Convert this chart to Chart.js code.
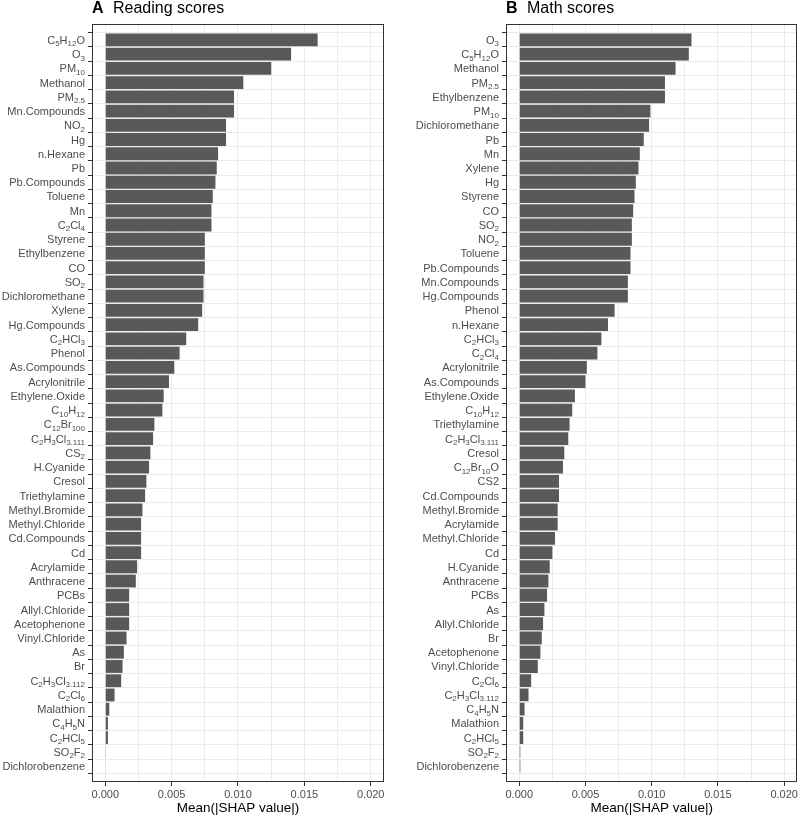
<!DOCTYPE html>
<html>
<head>
<meta charset="utf-8">
<script src="https://cdn.jsdelivr.net/npm/chart.js@4.4.0/dist/chart.umd.min.js"></script>
<style>
  html, body { margin: 0; padding: 0; background: #fff; }
  #wrap { position: relative; width: 800px; height: 818px; }
  canvas { position: absolute; top: 0; }
</style>
</head>
<body>
<div id="wrap">
  <canvas id="reading" width="400" height="818" style="left:0"></canvas>
  <canvas id="math" width="400" height="818" style="left:400px"></canvas>
</div>
<script>
// Labels use _{..} for subscripts (drawn by the plugin below)
const readingLabels = [
  'C_{5}H_{12}O', 'O_{3}', 'PM_{10}', 'Methanol', 'PM_{2.5}', 'Mn.Compounds', 'NO_{2}', 'Hg',
  'n.Hexane', 'Pb', 'Pb.Compounds', 'Toluene', 'Mn', 'C_{2}Cl_{4}', 'Styrene', 'Ethylbenzene',
  'CO', 'SO_{2}', 'Dichloromethane', 'Xylene', 'Hg.Compounds', 'C_{2}HCl_{3}', 'Phenol',
  'As.Compounds', 'Acrylonitrile', 'Ethylene.Oxide', 'C_{10}H_{12}', 'C_{12}Br_{100}',
  'C_{2}H_{3}Cl_{3.111}', 'CS_{2}', 'H.Cyanide', 'Cresol', 'Triethylamine', 'Methyl.Bromide',
  'Methyl.Chloride', 'Cd.Compounds', 'Cd', 'Acrylamide', 'Anthracene', 'PCBs', 'Allyl.Chloride',
  'Acetophenone', 'Vinyl.Chloride', 'As', 'Br', 'C_{2}H_{3}Cl_{3.112}', 'C_{2}Cl_{6}', 'Malathion',
  'C_{4}H_{5}N', 'C_{2}HCl_{5}', 'SO_{2}F_{2}', 'Dichlorobenzene'
];
const readingValues = [
  0.0160, 0.0140, 0.0125, 0.0104, 0.0097, 0.0097, 0.0091, 0.0091,
  0.0085, 0.0084, 0.0083, 0.0081, 0.0080, 0.0080, 0.0075, 0.0075,
  0.0075, 0.0074, 0.0074, 0.0073, 0.0070, 0.0061, 0.0056,
  0.0052, 0.0048, 0.0044, 0.0043, 0.0037,
  0.0036, 0.0034, 0.0033, 0.0031, 0.0030, 0.0028,
  0.0027, 0.0027, 0.0027, 0.0024, 0.0023, 0.0018, 0.0018,
  0.0018, 0.0016, 0.0014, 0.0013, 0.0012, 0.0007, 0.0003,
  0.0002, 0.0002, 0.00005, 0.00004
];

const mathLabels = [
  'O_{3}', 'C_{5}H_{12}O', 'Methanol', 'PM_{2.5}', 'Ethylbenzene', 'PM_{10}', 'Dichloromethane',
  'Pb', 'Mn', 'Xylene', 'Hg', 'Styrene', 'CO', 'SO_{2}', 'NO_{2}', 'Toluene', 'Pb.Compounds',
  'Mn.Compounds', 'Hg.Compounds', 'Phenol', 'n.Hexane', 'C_{2}HCl_{3}', 'C_{2}Cl_{4}',
  'Acrylonitrile', 'As.Compounds', 'Ethylene.Oxide', 'C_{10}H_{12}', 'Triethylamine',
  'C_{2}H_{3}Cl_{3.111}', 'Cresol', 'C_{12}Br_{10}O', 'CS2', 'Cd.Compounds', 'Methyl.Bromide',
  'Acrylamide', 'Methyl.Chloride', 'Cd', 'H.Cyanide', 'Anthracene', 'PCBs', 'As',
  'Allyl.Chloride', 'Br', 'Acetophenone', 'Vinyl.Chloride', 'C_{2}Cl_{6}', 'C_{2}H_{3}Cl_{3.112}',
  'C_{4}H_{5}N', 'Malathion', 'C_{2}HCl_{5}', 'SO_{2}F_{2}', 'Dichlorobenzene'
];
const mathValues = [
  0.0130, 0.0128, 0.0118, 0.0110, 0.0110, 0.0099, 0.0098,
  0.0094, 0.0091, 0.0090, 0.0088, 0.0087, 0.0086, 0.0085, 0.0085, 0.0084, 0.0084,
  0.0082, 0.0082, 0.0072, 0.0067, 0.0062, 0.0059,
  0.0051, 0.0050, 0.0042, 0.0040, 0.0038,
  0.0037, 0.0034, 0.0033, 0.0030, 0.0030, 0.0029,
  0.0029, 0.0027, 0.0025, 0.0023, 0.0022, 0.0021, 0.0019,
  0.0018, 0.0017, 0.0016, 0.0014, 0.0009, 0.0007,
  0.0004, 0.0003, 0.0003, 0.00008, 0.00008
];

const xMajorTicks = [0, 0.005, 0.010, 0.015, 0.020];
const xMinorTicks = [0.0025, 0.0075, 0.0125, 0.0175];
const xTitle = 'Mean(|SHAP value|)';

const FONT = '"Liberation Sans", Arial, Helvetica, sans-serif';
const BAR = '#595959';
const GRID = '#ebebeb';
const TEXT = '#4d4d4d';

// split "C_{2}Cl_{4}" into normal / subscript pieces
function splitLabel(s) {
  const parts = [];
  const re = /_\{([^}]*)\}/g;
  let last = 0, m;
  while ((m = re.exec(s))) {
    if (m.index > last) parts.push({ text: s.slice(last, m.index), sub: false });
    parts.push({ text: m[1], sub: true });
    last = re.lastIndex;
  }
  if (last < s.length) parts.push({ text: s.slice(last), sub: false });
  return parts;
}

// panel border, title and y labels with subscripts
const panelDeco = {
  id: 'panelDeco',
  afterDraw(chart, args, opts) {
    const ctx = chart.ctx;
    const area = chart.chartArea;
    const yScale = chart.scales.y;

    ctx.save();
    ctx.strokeStyle = '#333333';
    ctx.lineWidth = 1;
    ctx.strokeRect(Math.round(area.left) + 0.5, Math.round(area.top) + 0.5,
      Math.round(area.right - area.left) - 1, Math.round(area.bottom - area.top) - 1);

    // title
    ctx.fillStyle = '#000';
    ctx.textBaseline = 'middle';
    ctx.textAlign = 'left';
    ctx.font = 'bold 16px ' + FONT;
    ctx.fillText(opts.letter, area.left, 9);
    ctx.font = '16px ' + FONT;
    ctx.fillText(opts.title, area.left + 21, 9);

    // y labels
    ctx.fillStyle = TEXT;
    ctx.textBaseline = 'alphabetic';
    const right = area.left - 7;
    opts.labels.forEach((lab, i) => {
      const y = yScale.getPixelForValue(i);
      const parts = splitLabel(lab);
      let total = 0;
      parts.forEach(p => {
        ctx.font = (p.sub ? '8px ' : '11px ') + FONT;
        p.w = ctx.measureText(p.text).width;
        total += p.w;
      });
      let x = right - total;
      parts.forEach(p => {
        ctx.font = (p.sub ? '8px ' : '11px ') + FONT;
        ctx.fillText(p.text, x, p.sub ? y + 6.5 : y + 4);
        x += p.w;
      });
    });
    ctx.restore();
  }
};

function isMajor(v) {
  return xMajorTicks.some(t => Math.abs(t - v) < 1e-9);
}

function makeChart(id, letter, title, labels, values, yWidth, padRight) {
  return new Chart(document.getElementById(id), {
    type: 'bar',
    data: {
      datasets: [{
        data: values.map((v, i) => ({ x: v, y: i })),
        backgroundColor: BAR,
        borderWidth: 0,
        categoryPercentage: 1,
        barPercentage: 0.9
      }]
    },
    plugins: [panelDeco],
    options: {
      indexAxis: 'y',
      responsive: false,
      animation: false,
      layout: { padding: { top: 24, right: padRight, bottom: 0, left: 0 } },
      plugins: {
        legend: { display: false },
        tooltip: { enabled: false },
        panelDeco: { letter: letter, title: title, labels: labels }
      },
      scales: {
        x: {
          type: 'linear',
          min: -0.001,
          max: 0.021,
          afterBuildTicks: (scale) => {
            scale.ticks = [...xMajorTicks, ...xMinorTicks].sort((a, b) => a - b).map(v => ({ value: v }));
          },
          afterFit: (scale) => { scale.height = 36; },
          border: { display: false },
          grid: {
            color: GRID,
            lineWidth: 1,
            drawTicks: true,
            tickLength: 4,
            tickColor: (c) => (c.tick && isMajor(c.tick.value)) ? '#333333' : 'rgba(0,0,0,0)'
          },
          ticks: {
            autoSkip: false,
            maxRotation: 0,
            padding: 2,
            color: TEXT,
            font: { family: FONT, size: 11 },
            callback: (v) => isMajor(v) ? Number(v).toFixed(3) : ''
          },
          title: {
            display: true,
            text: xTitle,
            color: '#000',
            font: { family: FONT, size: 13.5 },
            padding: { top: 0, bottom: 2 }
          }
        },
        y: {
          type: 'linear',
          reverse: true,
          min: -0.6,
          max: labels.length - 0.4,
          afterBuildTicks: (scale) => {
            scale.ticks = labels.map((_, i) => ({ value: i }));
          },
          afterFit: (scale) => { scale.width = yWidth; },
          border: { display: false },
          grid: {
            color: GRID,
            lineWidth: 1,
            drawTicks: true,
            tickLength: 4,
            tickColor: '#333333'
          },
          ticks: { display: false }
        }
      }
    }
  });
}

makeChart('reading', 'A', 'Reading scores', readingLabels, readingValues, 92, 16);
makeChart('math', 'B', 'Math scores', mathLabels, mathValues, 106, 1);
</script>
</body>
</html>
